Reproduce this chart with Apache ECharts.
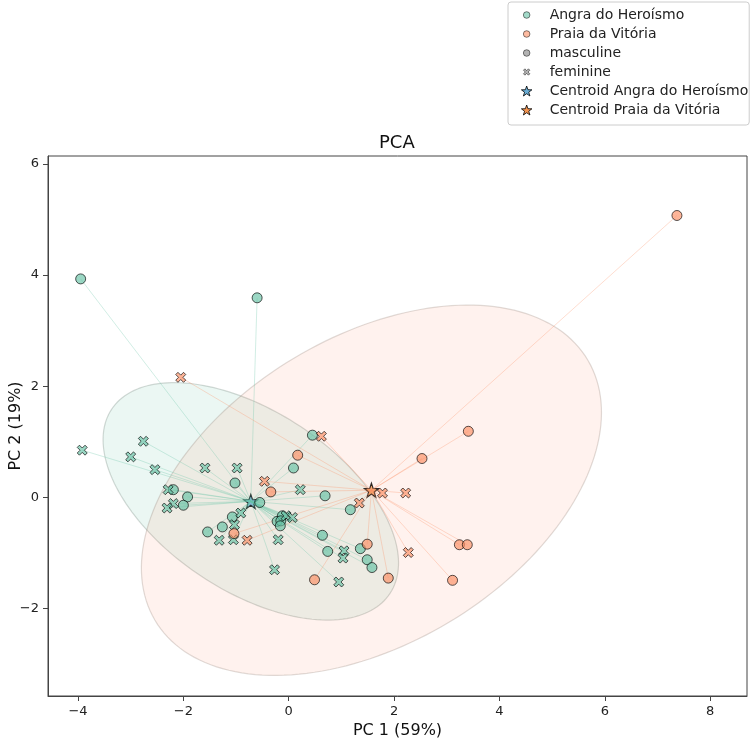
<!DOCTYPE html>
<html>
  <head>
    <meta charset="UTF-8">
    <title>PCA</title>
    <script src="https://cdn.jsdelivr.net/npm/echarts@6/dist/echarts.min.js"></script>
    <style>
      html, body { margin: 0; padding: 0; background: #fff; }
      #pca { width: 750px; height: 746px; }
    </style>
  </head>
  <body>
    <div id="pca"></div>
    <script type="text/javascript">
     // points, [PC1, PC2]
     var angraMasculine = [
       [-3.95, 3.93], [-0.60, 3.59], [-1.02, 0.26], [-2.19, 0.14], [-1.92, 0.01],
       [-2.00, -0.14], [-0.55, -0.09], [-1.07, -0.35], [-1.26, -0.53], [-1.54, -0.62],
       [0.45, 1.12], [0.09, 0.53], [0.69, 0.03], [1.17, -0.22], [-0.22, -0.43],
       [-0.12, -0.33], [-0.15, -0.42], [-0.16, -0.51], [0.64, -0.68], [0.74, -0.97],
       [1.36, -0.92], [1.49, -1.12], [1.58, -1.26]
     ];
     var angraFeminine = [
       [-3.92, 0.85], [-2.76, 1.01], [-3.00, 0.73], [-2.54, 0.50], [-1.59, 0.53],
       [-0.98, 0.53], [-2.29, 0.14], [-2.19, -0.11], [-2.31, -0.19], [-0.91, -0.28],
       [-1.03, -0.49], [-1.32, -0.77], [-1.05, -0.76], [-0.27, -1.30], [0.22, 0.14],
       [-0.20, -0.76], [-0.05, -0.33], [0.07, -0.36], [1.05, -0.96], [1.03, -1.09],
       [0.95, -1.52]
     ];
     var praiaMasculine = [
       [-0.34, 0.10], [-1.04, -0.65], [0.17, 0.76], [1.49, -0.84], [1.89, -1.45],
       [0.49, -1.48], [3.24, -0.85], [3.39, -0.85], [3.11, -1.49], [2.53, 0.70],
       [3.41, 1.19], [7.37, 5.07]
     ];
     var praiaFeminine = [
       [-2.05, 2.16], [-0.46, 0.29], [-0.79, -0.77], [0.62, 1.10], [1.78, 0.08],
       [2.22, 0.08], [1.34, -0.10], [2.27, -0.99]
     ];
     var centroidAngra = [-0.72, -0.07];
     var centroidPraia = [1.57, 0.13];

     // confidence ellipses: Angra, Praia
     var ellipseSemiMajor = [3.12, 4.73];
     var ellipseSemiMinor = [1.64, 2.79];
     var ellipseAngle = [-31, 28.4];

     var xTicks = [-4, -2, 0, 2, 4, 6, 8];
     var yTicks = [-2, 0, 2, 4, 6];

     var TEAL = '#66c2a5', SALMON = '#fc8d62';
     var STAR_A = '#6aaed6', STAR_P = '#f4944f';
     var FONT = 'DejaVu Sans';

     // marker shapes
     function starPath(size) {
       var d = [];
       for (var i = 0; i < 10; i++) {
         var r = i % 2 ? size * 0.4 : size;
         var a = -Math.PI / 2 + i * Math.PI / 5;
         d.push((i ? 'L' : 'M') + (size + r * Math.cos(a)).toFixed(3) + ',' + (size + r * Math.sin(a)).toFixed(3));
       }
       return 'path://' + d.join('') + 'Z';
     }
     function xPath(lo, hi, pad) {
       var s = (hi - lo) / 10;
       var p = [[2.2,0],[5,2.8],[7.8,0],[10,2.2],[7.2,5],[10,7.8],[7.8,10],[5,7.2],[2.2,10],[0,7.8],[2.8,5],[0,2.2]];
       var d = pad ? 'M0,0M10,10' : '';
       p.forEach(function (q, i) {
         d += (i ? 'L' : 'M') + (lo + q[0] * s) + ',' + (lo + q[1] * s);
       });
       return 'path://' + d + 'Z';
     }
     var STAR = starPath(10);
     var XMARK = xPath(0, 10, false);
     var XICON = xPath(1.8, 8.2, true);
     var CIRCLEICON = 'path://M0,0M10,10M8.3,5A3.3,3.3,0,1,1,1.7,5A3.3,3.3,0,1,1,8.3,5Z';

     function links(points, c) {
       return points.map(function (p) { return { coords: [p, c] }; });
     }
     function iconStyle(color, op) {
       return { color: color, borderColor: '#000', borderWidth: 0.8, opacity: op };
     }

     var ellipseCenters = [centroidAngra, centroidPraia];
     var ellipseStyles = [
       { fill: 'rgba(102,194,165,0.13)', stroke: 'rgba(110,130,120,0.30)' },
       { fill: 'rgba(252,141,98,0.11)', stroke: 'rgba(130,110,100,0.25)' }
     ];

     var chart = echarts.init(document.getElementById('pca'));

     function pointSeries(name, data, symbol, color) {
       return {
         name: name, type: 'scatter', data: data, symbol: symbol, symbolSize: 10, z: 4,
         itemStyle: { color: color, borderColor: '#000', borderWidth: 1, opacity: 0.65 },
         emphasis: { disabled: true }
       };
     }

     chart.setOption({
       animation: false,
       textStyle: { fontFamily: FONT },
       title: {
         text: 'PCA', left: 379, top: 134, padding: 0,
         textStyle: { fontFamily: FONT, fontSize: 18, fontWeight: 'normal', color: '#111' }
       },
       legend: {
         orient: 'vertical', left: 508, top: 2,
         padding: [6, 1, 8, 13],
         itemWidth: 36, itemHeight: 10, itemGap: 5,
         borderColor: '#ccc', borderWidth: 1, borderRadius: 3,
         selectedMode: false,
         textStyle: { fontFamily: FONT, fontSize: 14, color: '#222', lineHeight: 14 },
         data: [
           { name: 'Angra do Heroísmo', icon: CIRCLEICON, itemStyle: iconStyle(TEAL, 0.6) },
           { name: 'Praia da Vitória', icon: CIRCLEICON, itemStyle: iconStyle(SALMON, 0.6) },
           { name: 'masculine', icon: CIRCLEICON, itemStyle: iconStyle('#808080', 0.6) },
           { name: 'feminine', icon: XICON, itemStyle: iconStyle('#808080', 0.6) },
           { name: 'Centroid Angra do Heroísmo', icon: STAR, itemStyle: iconStyle(STAR_A, 1) },
           { name: 'Centroid Praia da Vitória', icon: STAR, itemStyle: iconStyle(STAR_P, 1) }
         ]
       },
       grid: {
         left: 48, right: 3, top: 156, bottom: 50,
         containLabel: false, outerBoundsMode: 'none',
         show: true, borderColor: '#444', borderWidth: 1
       },
       xAxis: {
         type: 'value', min: -4.57, max: 8.70,
         name: 'PC 1 (59%)', nameLocation: 'middle', nameGap: 27, nameMoveOverlap: false,
         nameTextStyle: { fontFamily: FONT, fontSize: 16, color: '#111' },
         axisLine: { show: true, onZero: false, lineStyle: { color: '#444' } },
         axisTick: { show: true, length: 5, customValues: xTicks, lineStyle: { color: '#444' } },
         axisLabel: {
           customValues: xTicks, margin: 9, fontSize: 13, color: '#222',
           formatter: function (v) { return String(v).replace('-', '\u2212'); }
         },
         splitLine: { show: false }
       },
       yAxis: {
         type: 'value', min: -3.57, max: 6.14,
         name: 'PC 2 (19%)', nameLocation: 'middle', nameGap: 24, nameMoveOverlap: false,
         nameTextStyle: { fontFamily: FONT, fontSize: 16, color: '#111' },
         axisLine: { show: true, onZero: false, lineStyle: { color: '#444' } },
         axisTick: { show: true, length: 5, customValues: yTicks, lineStyle: { color: '#444' } },
         axisLabel: {
           customValues: yTicks, margin: 9, fontSize: 13, color: '#222',
           formatter: function (v) { return String(v).replace('-', '\u2212'); }
         },
         splitLine: { show: false }
       },
       series: [
         {
           name: 'ellipses', type: 'custom', z: 1, silent: true,
           data: ellipseCenters,
           encode: { x: 0, y: 1 },
           renderItem: function (params, api) {
             var i = params.dataIndex;
             var c = ellipseCenters[i];
             var t0 = ellipseAngle[i] * Math.PI / 180;
             var ca = Math.cos(t0), sa = Math.sin(t0);
             var pts = [];
             for (var k = 0; k < 180; k++) {
               var t = k / 180 * 2 * Math.PI;
               var ex = ellipseSemiMajor[i] * Math.cos(t);
               var ey = ellipseSemiMinor[i] * Math.sin(t);
               pts.push(api.coord([c[0] + ex * ca - ey * sa, c[1] + ex * sa + ey * ca]));
             }
             return {
               type: 'polygon',
               shape: { points: pts },
               style: { fill: ellipseStyles[i].fill, stroke: ellipseStyles[i].stroke, lineWidth: 1.2 }
             };
           }
         },
         {
           name: 'Centroid Angra do Heroísmo', type: 'scatter', z: 2,
           data: [centroidAngra], symbol: STAR, symbolSize: 14,
           itemStyle: { color: STAR_A, borderColor: '#000', borderWidth: 1.2 }
         },
         {
           name: 'Centroid Praia da Vitória', type: 'scatter', z: 2,
           data: [centroidPraia], symbol: STAR, symbolSize: 14,
           itemStyle: { color: STAR_P, borderColor: '#000', borderWidth: 1.2 }
         },
         {
           name: 'linksAngra', type: 'lines', coordinateSystem: 'cartesian2d', z: 3, silent: true,
           data: links(angraMasculine.concat(angraFeminine), centroidAngra),
           lineStyle: { color: TEAL, width: 1, opacity: 0.3 }
         },
         {
           name: 'linksPraia', type: 'lines', coordinateSystem: 'cartesian2d', z: 3, silent: true,
           data: links(praiaMasculine.concat(praiaFeminine), centroidPraia),
           lineStyle: { color: SALMON, width: 1, opacity: 0.3 }
         },
         pointSeries('Angra do Heroísmo', angraMasculine, 'circle', TEAL),
         pointSeries('Angra do Heroísmo', angraFeminine, XMARK, TEAL),
         pointSeries('Praia da Vitória', praiaMasculine, 'circle', SALMON),
         pointSeries('Praia da Vitória', praiaFeminine, XMARK, SALMON),
         pointSeries('masculine', [], 'circle', '#808080'),
         pointSeries('feminine', [], XMARK, '#808080')
       ]
     });
    </script>
  </body>
</html>
